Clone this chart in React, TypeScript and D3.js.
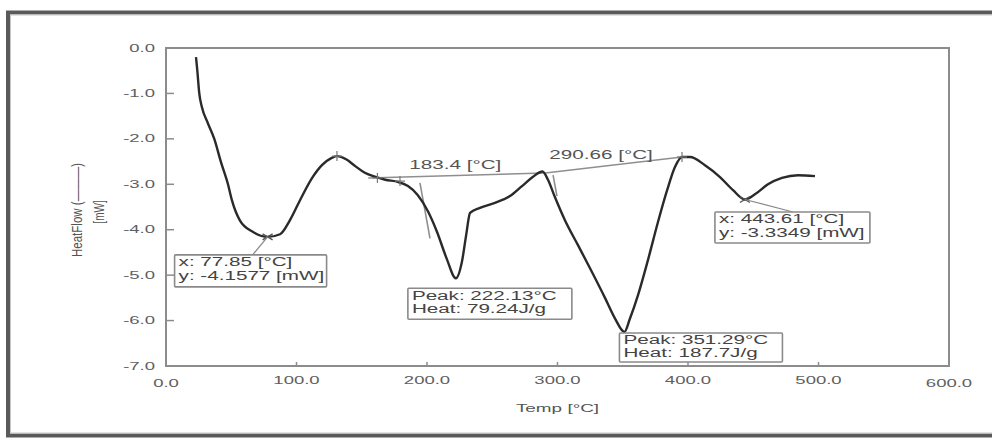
import React from "react";
import * as d3 from "d3";

// DSC scan: temperature [°C] vs heat flow [mW]
const temperature = [
  23, 24, 25.5, 27.5, 32, 37, 42, 47.5, 50.5, 56.7, 66.7, 77.85, 87.4, 95, 102.7,
  112, 119.5, 127, 131, 138, 145, 152, 160, 168, 178, 185.4, 193, 200.8, 207.7,
  215, 222.13, 226.8, 230, 233, 240.6, 252, 263.6, 272.8, 281, 288.5, 292.7, 298,
  305.7, 315.7, 326.4, 336.4, 344, 351.29, 355.6, 361.7, 369.3, 377, 384, 390,
  395.4, 401.5, 413, 424.5, 434.5, 443.61, 451.3, 461.3, 472, 484.3, 497.3,
];
const heatFlow = [
  -0.2, -0.5, -1.0, -1.3, -1.65, -2.0, -2.5, -3.0, -3.35, -3.8, -4.05, -4.1577,
  -4.1, -3.79, -3.35, -2.86, -2.58, -2.42, -2.38, -2.45, -2.6, -2.74, -2.83,
  -2.9, -2.95, -3.04, -3.24, -3.6, -4.05, -4.63, -5.07, -4.7, -4.12, -3.63,
  -3.52, -3.41, -3.26, -3.04, -2.84, -2.72, -2.9, -3.28, -3.79, -4.34, -4.93,
  -5.5, -5.95, -6.25, -5.95, -5.44, -4.67, -3.83, -3.13, -2.62, -2.4, -2.4,
  -2.58, -2.84, -3.13, -3.3349, -3.22, -3.0, -2.86, -2.8, -2.82,
];

const xTicks = [0, 100, 200, 300, 400, 500, 600];
const yTicks = [0, -1, -2, -3, -4, -5, -6, -7];

// Integration baselines and onset tangents
const baseline1 = [
  [155, -2.86],
  [290.66, -2.75],
];
const baseline2 = [
  [290.66, -2.75],
  [395.4, -2.4],
];
const onsetTangent = [
  [194.6, -2.97],
  [202.3, -4.19],
];
const onsetTangent2 = [
  [296.6, -2.8],
  [299.6, -3.26],
];

// Onset labels
const onsetLabels = [
  { t: 183.4, v: -2.86, text: "183.4 [°C]", lift: 9 },
  { t: 290.66, v: -2.75, text: "290.66 [°C]", lift: 14 },
];

// Cursor / peak result boxes
const resultBoxes = [
  { t: 77.85, v: -4.1577, lines: ["x: 77.85 [°C]", "y: -4.1577 [mW]"], dx: -93, dy: 18, w: 152, h: 32, leader: true },
  { t: 222.13, v: -5.07, lines: ["Peak: 222.13°C", "Heat: 79.24J/g"], dx: -48, dy: 10, w: 164, h: 31, leader: false },
  { t: 351.29, v: -6.25, lines: ["Peak: 351.29°C", "Heat: 187.7J/g"], dx: -5, dy: 1, w: 163, h: 29, leader: false },
  { t: 443.61, v: -3.3349, lines: ["x: 443.61 [°C]", "y: -3.3349 [mW]"], dx: -30, dy: 12.5, w: 155, h: 31, leader: true },
];

// Marker crosses on the trace
const plusMarks = [
  [131, -2.38],
  [179.3, -2.93],
  [395.4, -2.4],
  [162, -2.86],
];
const xMarks = [
  [77.85, -4.1577],
  [443.61, -3.3349],
];

const W = 992;
const H = 440;
const left = 166;
const right = 949;
const top = 48;
const bottom = 366;

const SX = 1.72; // horizontal glyph stretch of the instrument font

function WideText({ x, y, anchor = "start", size = 12, sx = SX, fill = "#444", children }: any) {
  return (
    <text
      transform={`translate(${x},${y}) scale(${sx},1)`}
      textAnchor={anchor}
      fontSize={size}
      fill={fill}
      fontFamily="'Liberation Sans', Arial, sans-serif"
    >
      {children}
    </text>
  );
}

export default function App() {
  const x = d3.scaleLinear().domain([0, 600]).range([left, right]);
  const y = d3.scaleLinear().domain([0, -7]).range([top, bottom]);

  const pts: [number, number][] = temperature.map((t, i) => [t, heatFlow[i]]);
  const line = d3
    .line<[number, number]>()
    .x((d) => x(d[0]))
    .y((d) => y(d[1]))
    .curve(d3.curveMonotoneX);
  const seg = d3
    .line<number[]>()
    .x((d) => x(d[0]))
    .y((d) => y(d[1]));

  return (
    <svg
      width={W}
      height={H}
      style={{ position: "absolute", left: 0, top: 0, background: "#fff" }}
    >
      {/* outer window frame */}
      <rect x={0} y={0} width={W} height={H} fill="#fff" />
      <rect x={8} y={12.5} width={W + 10} height={423} fill="none" stroke="#5a5a5a" strokeWidth={4} />
      <rect x={10.5} y={15} width={W} height={418} fill="none" stroke="#c8c8c8" strokeWidth={1} />

      {/* plot frame */}
      <rect
        x={left}
        y={top}
        width={right - left}
        height={bottom - top}
        fill="none"
        stroke="#8c8c8c"
        strokeWidth={2}
      />

      {/* y ticks and labels */}
      {yTicks.map((v) => (
        <g key={"y" + v}>
          {v !== 0 && v !== -7 && (
            <line x1={left} x2={left + 8} y1={y(v)} y2={y(v)} stroke="#8c8c8c" strokeWidth={1.5} />
          )}
          <WideText x={155} y={y(v) + 3.5} anchor="end" size={10} sx={1.85} fill="#606060">
            {v === 0 ? "0.0" : v.toFixed(1)}
          </WideText>
        </g>
      ))}

      {/* x ticks and labels */}
      {xTicks.map((t) => (
        <g key={"x" + t}>
          {t !== 0 && t !== 600 && (
            <line x1={x(t)} x2={x(t)} y1={bottom} y2={bottom - 4} stroke="#8c8c8c" strokeWidth={1.5} />
          )}
          <WideText x={x(t)} y={t === 0 || t === 600 ? 387 : 384} anchor="middle" size={10} sx={1.85} fill="#606060">
            {t.toFixed(1)}
          </WideText>
        </g>
      ))}

      {/* axis titles */}
      <WideText x={(left + right) / 2} y={412} anchor="middle" size={11} fill="#555">
        Temp [°C]
      </WideText>
      <text
        transform={`translate(82,210) rotate(-90) scale(1,1.4)`}
        textAnchor="middle"
        fontSize={11}
        fill="#555"
        fontFamily="'Liberation Sans', Arial, sans-serif"
        textLength={94}
        lengthAdjust="spacingAndGlyphs"
      >
        HeatFlow (———)
      </text>
      <text
        transform={`translate(104,212) rotate(-90) scale(1,1.4)`}
        textAnchor="middle"
        fontSize={10}
        fill="#555"
        fontFamily="'Liberation Sans', Arial, sans-serif"
      >
        [mW]
      </text>

      {/* baselines and tangents */}
      {[baseline1, baseline2, onsetTangent, onsetTangent2].map((s, i) => (
        <path key={"b" + i} d={seg(s) || ""} fill="none" stroke="#8f8f8f" strokeWidth={1.6} />
      ))}

      {/* onset labels */}
      {onsetLabels.map((o) => (
        <WideText key={o.text} x={x(o.t) + 4} y={y(o.v) - o.lift} size={12} fill="#555">
          {o.text}
        </WideText>
      ))}

      {/* heat flow trace */}
      <path d={line(pts) || ""} fill="none" stroke="#2a2a2a" strokeWidth={2.4} strokeLinejoin="round" />

      {/* markers */}
      {plusMarks.map((m, i) => (
        <g key={"p" + i} stroke="#777" strokeWidth={1.2}>
          <line x1={x(m[0]) - 5} x2={x(m[0]) + 5} y1={y(m[1])} y2={y(m[1])} />
          <line x1={x(m[0])} x2={x(m[0])} y1={y(m[1]) - 5} y2={y(m[1]) + 5} />
        </g>
      ))}
      {xMarks.map((m, i) => (
        <g key={"xm" + i} stroke="#555" strokeWidth={1.4}>
          <line x1={x(m[0]) - 5} x2={x(m[0]) + 5} y1={y(m[1]) - 3} y2={y(m[1]) + 3} />
          <line x1={x(m[0]) - 5} x2={x(m[0]) + 5} y1={y(m[1]) + 3} y2={y(m[1]) - 3} />
        </g>
      ))}

      {/* result boxes */}
      {resultBoxes.map((b, i) => {
        const px = x(b.t);
        const py = y(b.v);
        const bx = px + b.dx;
        const by = py + b.dy;
        const lineGap = (b.h - 4) / 2;
        return (
          <g key={"r" + i}>
            {b.leader && (
              <line
                x1={px}
                y1={py}
                x2={i === 0 ? px - 15 : px + 48}
                y2={by}
                stroke="#888"
                strokeWidth={1.2}
              />
            )}
            <rect x={bx} y={by} width={b.w} height={b.h} fill="#fff" stroke="#8a8a8a" strokeWidth={1.6} rx={1} />
            {b.lines.map((ln, k) => (
              <WideText key={k} x={bx + 4} y={by + 11.5 + k * lineGap} size={12} fill="#444">
                {ln}
              </WideText>
            ))}
          </g>
        );
      })}
    </svg>
  );
}
